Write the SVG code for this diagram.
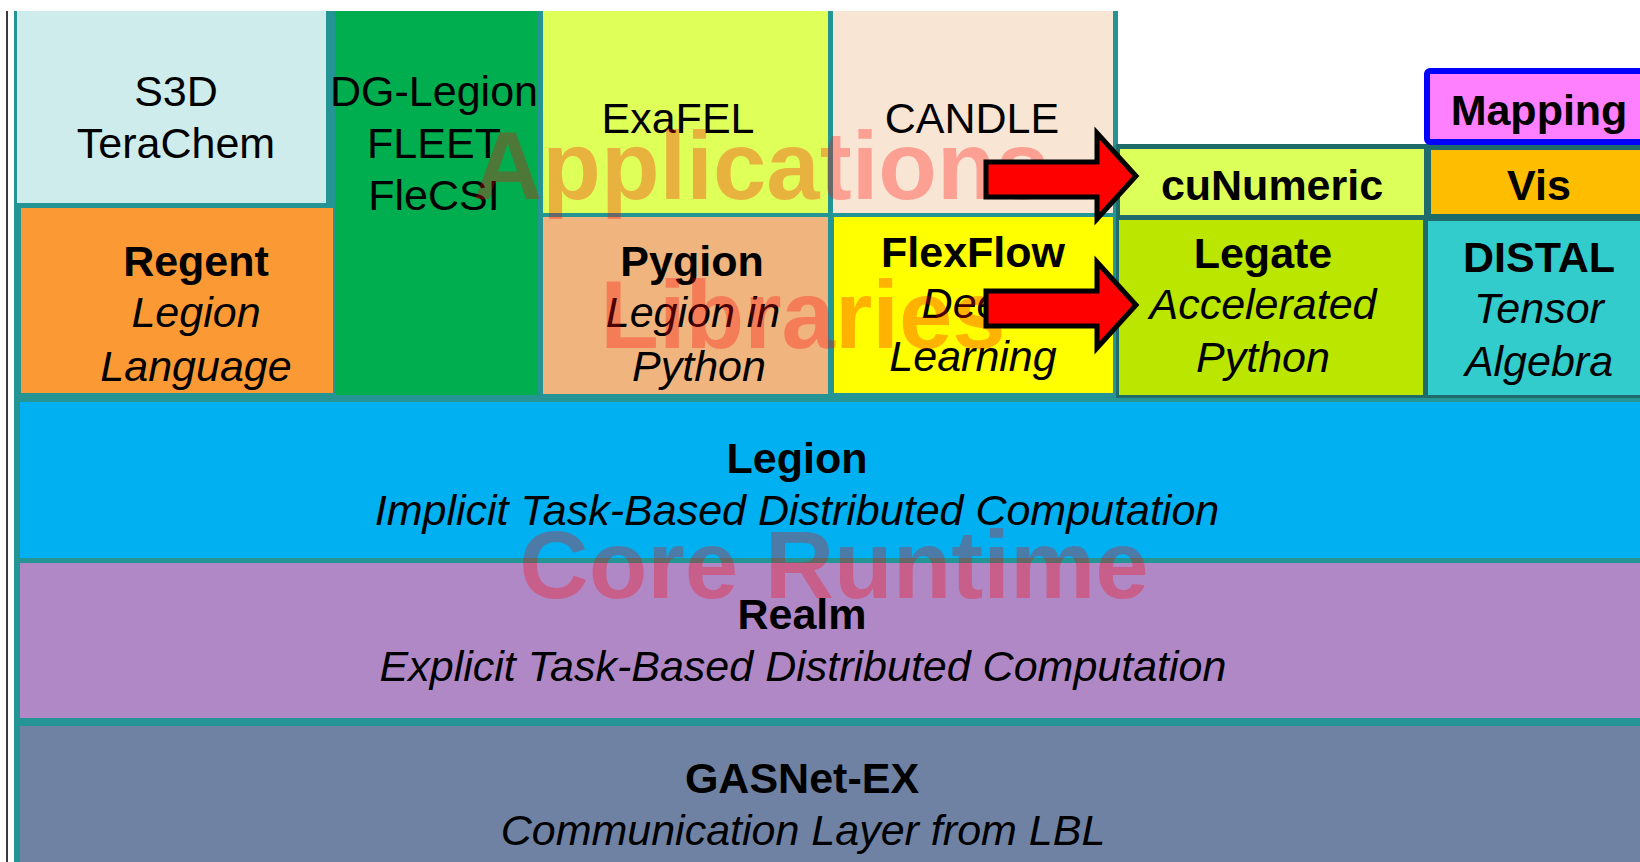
<svg xmlns="http://www.w3.org/2000/svg" width="1640" height="862" viewBox="0 0 1640 862">
<style>
text{font-family:"Liberation Sans",Arial,sans-serif;font-size:43px;fill:#000;text-anchor:middle}
.b{font-weight:bold}
.i{font-style:italic}
.wm{font-weight:bold;font-size:96px;fill:#ff0000;fill-opacity:0.3}
.arrow{fill:#ff0000;stroke:#000;stroke-width:5;stroke-linejoin:miter}
</style>
<rect x="0" y="0" width="1640" height="862" fill="#ffffff"/>
<line x1="7" y1="11" x2="7" y2="862" stroke="#3a3a3a" stroke-width="2"/>
<g id="frame">
<path d="M14,11 H1118 V144 H1640 V862 H14 Z" fill="#259494"/>
<rect x="1116" y="144" width="524" height="254" fill="#1f6b6b"/>
</g>
<g id="s3d">
<rect x="17" y="11" width="309" height="192" fill="#cdeceb"/>
<text x="176" y="106">S3D</text>
<text x="176" y="158">TeraChem</text>
</g>
<g id="dglegion">
<rect x="335" y="11" width="203" height="384" fill="#00ad4f"/>
<text x="434" y="106">DG-Legion</text>
<text x="434" y="158">FLEET</text>
<text x="434" y="210">FleCSI</text>
</g>
<g id="regent">
<rect x="21" y="208" width="312" height="185" fill="#fb9935"/>
<text class="b" x="196" y="276">Regent</text>
<text class="i" x="196" y="327">Legion</text>
<text class="i" x="196" y="381">Language</text>
</g>
<g id="exafel">
<rect x="543" y="11" width="285" height="202" fill="#dfff59"/>
<text x="678" y="133">ExaFEL</text>
</g>
<g id="candle">
<rect x="833" y="11" width="280" height="202" fill="#f9e5d3"/>
<text x="972" y="133">CANDLE</text>
</g>
<g id="pygion">
<rect x="543" y="217" width="285" height="177" fill="#f0b47f"/>
<text class="b" x="692" y="276">Pygion</text>
<text class="i" x="693" y="327">Legion in</text>
<text class="i" x="699" y="381">Python</text>
</g>
<g id="flexflow">
<rect x="834" y="217" width="279" height="176" fill="#ffff00"/>
<text class="b" x="973" y="267">FlexFlow</text>
<text class="i" x="973" y="318">Deep</text>
<text class="i" x="973" y="371">Learning</text>
</g>
<g id="cunumeric">
<rect x="1120" y="149" width="304" height="66" fill="#dcff5a"/>
<text class="b" x="1272" y="200">cuNumeric</text>
</g>
<g id="legate">
<rect x="1119" y="220" width="304" height="175" fill="#bae600"/>
<text class="b" x="1263" y="268">Legate</text>
<text class="i" x="1263" y="319">Accelerated</text>
<text class="i" x="1263" y="372">Python</text>
</g>
<g id="mapping">
<rect x="1427" y="71" width="230" height="71" rx="3" fill="#ff80ff" stroke="#0000ff" stroke-width="6"/>
<text class="b" x="1539" y="125">Mapping</text>
</g>
<g id="vis">
<rect x="1431" y="150" width="209" height="64" fill="#ffbd00"/>
<text class="b" x="1539" y="200">Vis</text>
</g>
<g id="distal">
<rect x="1428" y="221" width="212" height="174" fill="#33cccc"/>
<text class="b" x="1539" y="272">DISTAL</text>
<text class="i" x="1539" y="323">Tensor</text>
<text class="i" x="1539" y="376">Algebra</text>
</g>
<g id="legion">
<rect x="20" y="402" width="1620" height="156" fill="#00b0f0"/>
<text class="b" x="797" y="473">Legion</text>
<text class="i" x="797" y="525">Implicit Task-Based Distributed Computation</text>
</g>
<g id="realm">
<rect x="20" y="563" width="1620" height="155" fill="#b088c6"/>
<text class="b" x="802" y="629">Realm</text>
<text class="i" x="803" y="681">Explicit Task-Based Distributed Computation</text>
</g>
<g id="gasnet">
<rect x="20" y="726" width="1620" height="136" fill="#6f82a3"/>
<text class="b" x="802" y="793">GASNet-EX</text>
<text class="i" x="803" y="845">Communication Layer from LBL</text>
</g>
<g id="watermarks">
<text class="wm" x="761" y="199">Applications</text>
<text class="wm" x="803" y="348">Libraries</text>
<text class="wm" x="834" y="598">Core Runtime</text>
</g>
<g id="connectors">
<polygon class="arrow" points="986,162 1097,162 1097,133 1136,176 1097,219 1097,197 986,197"/>
<polygon class="arrow" points="986,291 1097,291 1097,262 1136,305 1097,348 1097,326 986,326"/>
</g>
</svg>
